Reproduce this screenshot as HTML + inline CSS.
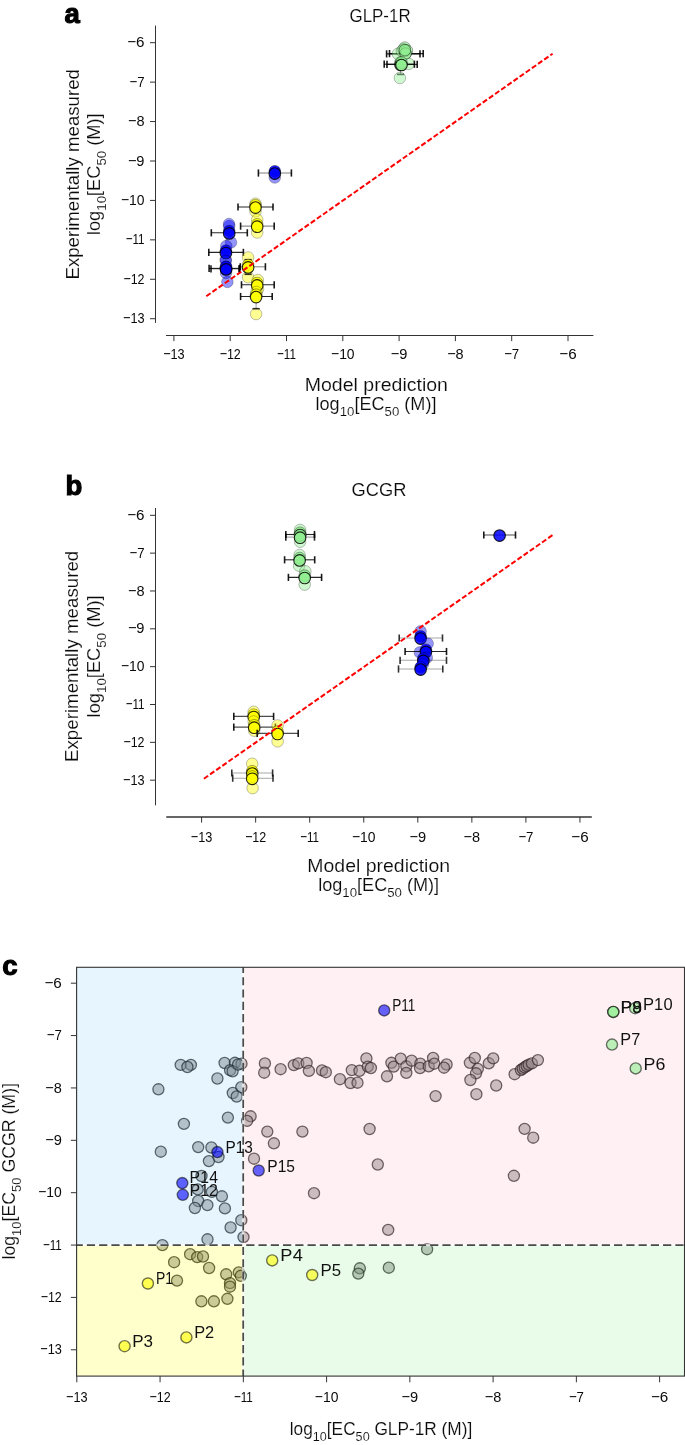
<!DOCTYPE html><html><head><meta charset="utf-8"><style>html,body{margin:0;padding:0;background:#fff;}svg{display:block;will-change:transform;} text{paint-order:fill stroke;stroke:#fff;stroke-width:0.14px;}</style></head><body><svg width="685" height="1445" viewBox="0 0 685 1445" font-family='"Liberation Sans", sans-serif'>
<rect width="685" height="1445" fill="#fff"/>
<text x="64.40" y="22.60" font-size="27.5" text-anchor="start" font-weight="bold" fill="#000" style="stroke:#000;stroke-width:1.1px;paint-order:stroke">a</text>
<text x="380.05" y="22.00" font-size="18" text-anchor="middle" font-weight="normal" fill="#0a0a0a" textLength="61.10" lengthAdjust="spacingAndGlyphs" >GLP-1R</text>
<line x1="155.50" y1="25.60" x2="155.50" y2="322.90" stroke="#333" stroke-width="1.0" />
<line x1="150.00" y1="318.71" x2="155.50" y2="318.71" stroke="#333" stroke-width="1.0" />
<text transform="translate(144.50,323.31) scale(0.819,1)" font-size="15.5" text-anchor="end" fill="#0a0a0a" style="stroke:none" textLength="26.25" lengthAdjust="spacing">−13</text>
<line x1="150.00" y1="279.28" x2="155.50" y2="279.28" stroke="#333" stroke-width="1.0" />
<text transform="translate(144.50,283.88) scale(0.806,1)" font-size="15.5" text-anchor="end" fill="#0a0a0a" style="stroke:none" textLength="26.14" lengthAdjust="spacing">−12</text>
<line x1="150.00" y1="239.85" x2="155.50" y2="239.85" stroke="#333" stroke-width="1.0" />
<text transform="translate(144.50,244.45) scale(0.752,1)" font-size="15.5" text-anchor="end" fill="#0a0a0a" style="stroke:none" textLength="25.01" lengthAdjust="spacing">−11</text>
<line x1="150.00" y1="200.42" x2="155.50" y2="200.42" stroke="#333" stroke-width="1.0" />
<text transform="translate(144.50,205.02) scale(0.896,1)" font-size="15.5" text-anchor="end" fill="#0a0a0a" style="stroke:none" textLength="26.35" lengthAdjust="spacing">−10</text>
<line x1="150.00" y1="160.99" x2="155.50" y2="160.99" stroke="#333" stroke-width="1.0" />
<text transform="translate(144.50,165.59) scale(0.943,1)" font-size="15.5" text-anchor="end" fill="#0a0a0a" style="stroke:none" textLength="17.57" lengthAdjust="spacing">−9</text>
<line x1="150.00" y1="121.56" x2="155.50" y2="121.56" stroke="#333" stroke-width="1.0" />
<text transform="translate(144.50,126.16) scale(0.937,1)" font-size="15.5" text-anchor="end" fill="#0a0a0a" style="stroke:none" textLength="17.67" lengthAdjust="spacing">−8</text>
<line x1="150.00" y1="82.13" x2="155.50" y2="82.13" stroke="#333" stroke-width="1.0" />
<text transform="translate(144.50,86.73) scale(0.851,1)" font-size="15.5" text-anchor="end" fill="#0a0a0a" style="stroke:none" textLength="17.57" lengthAdjust="spacing">−7</text>
<line x1="150.00" y1="42.70" x2="155.50" y2="42.70" stroke="#333" stroke-width="1.0" />
<text transform="translate(144.50,47.30) scale(0.980,1)" font-size="15.5" text-anchor="end" fill="#0a0a0a" style="stroke:none" textLength="17.67" lengthAdjust="spacing">−6</text>
<line x1="166.00" y1="335.50" x2="593.40" y2="335.50" stroke="#333" stroke-width="1.0" />
<line x1="173.90" y1="335.50" x2="173.90" y2="341.10" stroke="#333" stroke-width="1.0" />
<text transform="translate(173.90,359.00) scale(0.819,1)" font-size="15.5" text-anchor="middle" fill="#0a0a0a" style="stroke:none" textLength="26.25" lengthAdjust="spacing">−13</text>
<line x1="230.20" y1="335.50" x2="230.20" y2="341.10" stroke="#333" stroke-width="1.0" />
<text transform="translate(230.20,359.00) scale(0.806,1)" font-size="15.5" text-anchor="middle" fill="#0a0a0a" style="stroke:none" textLength="26.14" lengthAdjust="spacing">−12</text>
<line x1="286.50" y1="335.50" x2="286.50" y2="341.10" stroke="#333" stroke-width="1.0" />
<text transform="translate(286.50,359.00) scale(0.752,1)" font-size="15.5" text-anchor="middle" fill="#0a0a0a" style="stroke:none" textLength="25.01" lengthAdjust="spacing">−11</text>
<line x1="342.80" y1="335.50" x2="342.80" y2="341.10" stroke="#333" stroke-width="1.0" />
<text transform="translate(342.80,359.00) scale(0.896,1)" font-size="15.5" text-anchor="middle" fill="#0a0a0a" style="stroke:none" textLength="26.35" lengthAdjust="spacing">−10</text>
<line x1="399.10" y1="335.50" x2="399.10" y2="341.10" stroke="#333" stroke-width="1.0" />
<text transform="translate(399.10,359.00) scale(0.943,1)" font-size="15.5" text-anchor="middle" fill="#0a0a0a" style="stroke:none" textLength="17.57" lengthAdjust="spacing">−9</text>
<line x1="455.40" y1="335.50" x2="455.40" y2="341.10" stroke="#333" stroke-width="1.0" />
<text transform="translate(455.40,359.00) scale(0.937,1)" font-size="15.5" text-anchor="middle" fill="#0a0a0a" style="stroke:none" textLength="17.67" lengthAdjust="spacing">−8</text>
<line x1="511.70" y1="335.50" x2="511.70" y2="341.10" stroke="#333" stroke-width="1.0" />
<text transform="translate(511.70,359.00) scale(0.851,1)" font-size="15.5" text-anchor="middle" fill="#0a0a0a" style="stroke:none" textLength="17.57" lengthAdjust="spacing">−7</text>
<line x1="568.00" y1="335.50" x2="568.00" y2="341.10" stroke="#333" stroke-width="1.0" />
<text transform="translate(568.00,359.00) scale(0.980,1)" font-size="15.5" text-anchor="middle" fill="#0a0a0a" style="stroke:none" textLength="17.67" lengthAdjust="spacing">−6</text>
<g transform="translate(79.00,174.30) rotate(-90)">
<text x="0.00" y="0.00" font-size="17.5" text-anchor="middle" font-weight="normal" fill="#0a0a0a" textLength="210.50" lengthAdjust="spacingAndGlyphs" >Experimentally measured</text>
</g>
<g transform="translate(100.30,174.20) rotate(-90)">
<text x="0" y="0" font-size="17.5" text-anchor="middle" fill="#0a0a0a" textLength="121.80" lengthAdjust="spacingAndGlyphs">log<tspan font-size="12.8" dy="6.0">10</tspan><tspan dy="-6.0">[EC</tspan><tspan font-size="12.8" dy="6.0">50</tspan><tspan dy="-6.0"> (M)]</tspan></text>
</g>
<text x="376.35" y="391.30" font-size="17.5" text-anchor="middle" font-weight="normal" fill="#0a0a0a" textLength="143.20" lengthAdjust="spacingAndGlyphs" >Model prediction</text>
<g transform="translate(376.00,409.90)">
<text x="0" y="0" font-size="17.5" text-anchor="middle" fill="#0a0a0a" textLength="121.00" lengthAdjust="spacingAndGlyphs">log<tspan font-size="12.8" dy="6.0">10</tspan><tspan dy="-6.0">[EC</tspan><tspan font-size="12.8" dy="6.0">50</tspan><tspan dy="-6.0"> (M)]</tspan></text>
</g>
<text x="65.50" y="495.40" font-size="27.5" text-anchor="start" font-weight="bold" fill="#000" style="stroke:#000;stroke-width:1.1px;paint-order:stroke">b</text>
<text x="378.95" y="496.00" font-size="18" text-anchor="middle" font-weight="normal" fill="#0a0a0a" textLength="54.90" lengthAdjust="spacingAndGlyphs" >GCGR</text>
<line x1="155.50" y1="508.00" x2="155.50" y2="805.30" stroke="#333" stroke-width="1.0" />
<line x1="150.00" y1="780.18" x2="155.50" y2="780.18" stroke="#333" stroke-width="1.0" />
<text transform="translate(144.50,784.78) scale(0.819,1)" font-size="15.5" text-anchor="end" fill="#0a0a0a" style="stroke:none" textLength="26.25" lengthAdjust="spacing">−13</text>
<line x1="150.00" y1="742.34" x2="155.50" y2="742.34" stroke="#333" stroke-width="1.0" />
<text transform="translate(144.50,746.94) scale(0.806,1)" font-size="15.5" text-anchor="end" fill="#0a0a0a" style="stroke:none" textLength="26.14" lengthAdjust="spacing">−12</text>
<line x1="150.00" y1="704.50" x2="155.50" y2="704.50" stroke="#333" stroke-width="1.0" />
<text transform="translate(144.50,709.10) scale(0.752,1)" font-size="15.5" text-anchor="end" fill="#0a0a0a" style="stroke:none" textLength="25.01" lengthAdjust="spacing">−11</text>
<line x1="150.00" y1="666.66" x2="155.50" y2="666.66" stroke="#333" stroke-width="1.0" />
<text transform="translate(144.50,671.26) scale(0.896,1)" font-size="15.5" text-anchor="end" fill="#0a0a0a" style="stroke:none" textLength="26.35" lengthAdjust="spacing">−10</text>
<line x1="150.00" y1="628.82" x2="155.50" y2="628.82" stroke="#333" stroke-width="1.0" />
<text transform="translate(144.50,633.42) scale(0.943,1)" font-size="15.5" text-anchor="end" fill="#0a0a0a" style="stroke:none" textLength="17.57" lengthAdjust="spacing">−9</text>
<line x1="150.00" y1="590.98" x2="155.50" y2="590.98" stroke="#333" stroke-width="1.0" />
<text transform="translate(144.50,595.58) scale(0.937,1)" font-size="15.5" text-anchor="end" fill="#0a0a0a" style="stroke:none" textLength="17.67" lengthAdjust="spacing">−8</text>
<line x1="150.00" y1="553.14" x2="155.50" y2="553.14" stroke="#333" stroke-width="1.0" />
<text transform="translate(144.50,557.74) scale(0.851,1)" font-size="15.5" text-anchor="end" fill="#0a0a0a" style="stroke:none" textLength="17.57" lengthAdjust="spacing">−7</text>
<line x1="150.00" y1="515.30" x2="155.50" y2="515.30" stroke="#333" stroke-width="1.0" />
<text transform="translate(144.50,519.90) scale(0.980,1)" font-size="15.5" text-anchor="end" fill="#0a0a0a" style="stroke:none" textLength="17.67" lengthAdjust="spacing">−6</text>
<line x1="166.30" y1="817.00" x2="591.80" y2="817.00" stroke="#333" stroke-width="1.3" />
<line x1="201.60" y1="817.00" x2="201.60" y2="822.60" stroke="#333" stroke-width="1.0" />
<text transform="translate(201.60,841.70) scale(0.819,1)" font-size="15.5" text-anchor="middle" fill="#0a0a0a" style="stroke:none" textLength="26.25" lengthAdjust="spacing">−13</text>
<line x1="255.65" y1="817.00" x2="255.65" y2="822.60" stroke="#333" stroke-width="1.0" />
<text transform="translate(255.65,841.70) scale(0.806,1)" font-size="15.5" text-anchor="middle" fill="#0a0a0a" style="stroke:none" textLength="26.14" lengthAdjust="spacing">−12</text>
<line x1="309.70" y1="817.00" x2="309.70" y2="822.60" stroke="#333" stroke-width="1.0" />
<text transform="translate(309.70,841.70) scale(0.752,1)" font-size="15.5" text-anchor="middle" fill="#0a0a0a" style="stroke:none" textLength="25.01" lengthAdjust="spacing">−11</text>
<line x1="363.75" y1="817.00" x2="363.75" y2="822.60" stroke="#333" stroke-width="1.0" />
<text transform="translate(363.75,841.70) scale(0.896,1)" font-size="15.5" text-anchor="middle" fill="#0a0a0a" style="stroke:none" textLength="26.35" lengthAdjust="spacing">−10</text>
<line x1="417.80" y1="817.00" x2="417.80" y2="822.60" stroke="#333" stroke-width="1.0" />
<text transform="translate(417.80,841.70) scale(0.943,1)" font-size="15.5" text-anchor="middle" fill="#0a0a0a" style="stroke:none" textLength="17.57" lengthAdjust="spacing">−9</text>
<line x1="471.85" y1="817.00" x2="471.85" y2="822.60" stroke="#333" stroke-width="1.0" />
<text transform="translate(471.85,841.70) scale(0.937,1)" font-size="15.5" text-anchor="middle" fill="#0a0a0a" style="stroke:none" textLength="17.67" lengthAdjust="spacing">−8</text>
<line x1="525.90" y1="817.00" x2="525.90" y2="822.60" stroke="#333" stroke-width="1.0" />
<text transform="translate(525.90,841.70) scale(0.851,1)" font-size="15.5" text-anchor="middle" fill="#0a0a0a" style="stroke:none" textLength="17.57" lengthAdjust="spacing">−7</text>
<line x1="579.95" y1="817.00" x2="579.95" y2="822.60" stroke="#333" stroke-width="1.0" />
<text transform="translate(579.95,841.70) scale(0.980,1)" font-size="15.5" text-anchor="middle" fill="#0a0a0a" style="stroke:none" textLength="17.67" lengthAdjust="spacing">−6</text>
<g transform="translate(78.10,656.40) rotate(-90)">
<text x="0.00" y="0.00" font-size="17.5" text-anchor="middle" font-weight="normal" fill="#0a0a0a" textLength="211.20" lengthAdjust="spacingAndGlyphs" >Experimentally measured</text>
</g>
<g transform="translate(99.80,656.40) rotate(-90)">
<text x="0" y="0" font-size="17.5" text-anchor="middle" fill="#0a0a0a" textLength="122.00" lengthAdjust="spacingAndGlyphs">log<tspan font-size="12.8" dy="6.0">10</tspan><tspan dy="-6.0">[EC</tspan><tspan font-size="12.8" dy="6.0">50</tspan><tspan dy="-6.0"> (M)]</tspan></text>
</g>
<text x="378.70" y="872.10" font-size="17.5" text-anchor="middle" font-weight="normal" fill="#0a0a0a" textLength="142.70" lengthAdjust="spacingAndGlyphs" >Model prediction</text>
<g transform="translate(378.65,891.20)">
<text x="0" y="0" font-size="17.5" text-anchor="middle" fill="#0a0a0a" textLength="121.00" lengthAdjust="spacingAndGlyphs">log<tspan font-size="12.8" dy="6.0">10</tspan><tspan dy="-6.0">[EC</tspan><tspan font-size="12.8" dy="6.0">50</tspan><tspan dy="-6.0"> (M)]</tspan></text>
</g>
<line x1="386.60" y1="53.90" x2="420.00" y2="53.90" stroke="rgba(0,0,0,0.85)" stroke-width="1.1"/><g stroke="rgba(0,0,0,0.9)" stroke-width="1.6"><line x1="386.60" y1="50.30" x2="386.60" y2="57.50"/><line x1="420.00" y1="50.30" x2="420.00" y2="57.50"/></g>
<line x1="389.50" y1="53.60" x2="423.20" y2="53.60" stroke="rgba(0,0,0,0.85)" stroke-width="1.1"/><g stroke="rgba(0,0,0,0.9)" stroke-width="1.6"><line x1="389.50" y1="50.00" x2="389.50" y2="57.20"/><line x1="423.20" y1="50.00" x2="423.20" y2="57.20"/></g>
<circle cx="397.90" cy="53.90" r="5.8" fill="rgba(144,238,144,0.42)" stroke="rgba(0,0,0,0.25)" stroke-width="1"/>
<circle cx="401.90" cy="51.10" r="5.8" fill="rgba(144,238,144,0.42)" stroke="rgba(0,0,0,0.25)" stroke-width="1"/>
<circle cx="404.70" cy="47.60" r="5.8" fill="rgba(144,238,144,0.6)" stroke="rgba(0,0,0,0.3)" stroke-width="1"/>
<circle cx="403.60" cy="49.50" r="5.8" fill="rgba(144,238,144,0.6)" stroke="rgba(0,0,0,0.3)" stroke-width="1"/>
<circle cx="406.90" cy="50.60" r="5.8" fill="rgba(144,238,144,0.6)" stroke="rgba(0,0,0,0.35)" stroke-width="1"/>
<circle cx="405.60" cy="53.60" r="5.8" fill="rgba(144,238,144,0.75)" stroke="rgba(0,0,0,0.6)" stroke-width="1"/>
<circle cx="404.90" cy="50.20" r="5.8" fill="rgba(144,238,144,0.7)" stroke="rgba(0,0,0,0.45)" stroke-width="1"/>
<line x1="400.50" y1="64.20" x2="400.50" y2="74.40" stroke="rgba(0,0,0,0.35)" stroke-width="1.1"/>
<line x1="396.90" y1="74.40" x2="404.10" y2="74.40" stroke="rgba(0,0,0,0.8)" stroke-width="1.6"/>
<circle cx="408.70" cy="63.90" r="5.8" fill="rgba(144,238,144,0.42)" stroke="rgba(0,0,0,0.25)" stroke-width="1"/>
<circle cx="399.90" cy="78.00" r="5.8" fill="rgba(144,238,144,0.42)" stroke="rgba(0,0,0,0.25)" stroke-width="1"/>
<line x1="384.20" y1="64.20" x2="414.40" y2="64.20" stroke="rgba(0,0,0,0.85)" stroke-width="1.1"/><g stroke="rgba(0,0,0,0.9)" stroke-width="1.6"><line x1="384.20" y1="60.60" x2="384.20" y2="67.80"/><line x1="414.40" y1="60.60" x2="414.40" y2="67.80"/></g>
<circle cx="400.50" cy="62.40" r="5.8" fill="rgba(144,238,144,0.9)" stroke="rgba(0,0,0,0.35)" stroke-width="1"/>
<circle cx="400.50" cy="64.80" r="5.8" fill="rgba(144,238,144,0.85)" stroke="rgba(0,0,0,0.85)" stroke-width="1.1"/>
<line x1="387.00" y1="64.40" x2="417.20" y2="64.40" stroke="rgba(0,0,0,0.85)" stroke-width="1.1"/><g stroke="rgba(0,0,0,0.9)" stroke-width="1.6"><line x1="387.00" y1="60.80" x2="387.00" y2="68.00"/><line x1="417.20" y1="60.80" x2="417.20" y2="68.00"/></g>
<circle cx="401.50" cy="62.60" r="5.8" fill="rgba(144,238,144,0.9)" stroke="rgba(0,0,0,0.35)" stroke-width="1"/>
<circle cx="401.50" cy="65.00" r="5.8" fill="rgba(144,238,144,0.85)" stroke="rgba(0,0,0,0.85)" stroke-width="1.1"/>
<circle cx="274.80" cy="177.50" r="5.8" fill="rgba(0,0,255,0.42)" stroke="rgba(0,0,0,0.25)" stroke-width="1"/>
<line x1="258.40" y1="173.00" x2="291.40" y2="173.00" stroke="rgba(0,0,0,0.5)" stroke-width="1.1"/><g stroke="rgba(0,0,0,0.9)" stroke-width="1.6"><line x1="258.40" y1="169.40" x2="258.40" y2="176.60"/><line x1="291.40" y1="169.40" x2="291.40" y2="176.60"/></g>
<circle cx="274.80" cy="171.20" r="5.8" fill="rgba(0,0,255,0.9)" stroke="rgba(0,0,0,0.35)" stroke-width="1"/>
<circle cx="274.80" cy="173.60" r="5.8" fill="rgba(0,0,255,0.85)" stroke="rgba(0,0,0,0.85)" stroke-width="1.1"/>
<circle cx="229.20" cy="226.10" r="5.8" fill="rgba(0,0,255,0.42)" stroke="rgba(0,0,0,0.25)" stroke-width="1"/>
<circle cx="229.00" cy="224.00" r="5.8" fill="rgba(0,0,255,0.42)" stroke="rgba(0,0,0,0.25)" stroke-width="1"/>
<circle cx="231.00" cy="242.40" r="5.8" fill="rgba(0,0,255,0.42)" stroke="rgba(0,0,0,0.25)" stroke-width="1"/>
<line x1="211.30" y1="232.80" x2="247.30" y2="232.80" stroke="rgba(0,0,0,0.85)" stroke-width="1.1"/><g stroke="rgba(0,0,0,0.9)" stroke-width="1.6"><line x1="211.30" y1="229.20" x2="211.30" y2="236.40"/><line x1="247.30" y1="229.20" x2="247.30" y2="236.40"/></g>
<circle cx="229.20" cy="231.00" r="5.8" fill="rgba(0,0,255,0.9)" stroke="rgba(0,0,0,0.35)" stroke-width="1"/>
<circle cx="229.20" cy="233.40" r="5.8" fill="rgba(0,0,255,0.85)" stroke="rgba(0,0,0,0.85)" stroke-width="1.1"/>
<circle cx="226.30" cy="246.00" r="5.8" fill="rgba(0,0,255,0.42)" stroke="rgba(0,0,0,0.25)" stroke-width="1"/>
<circle cx="225.70" cy="259.50" r="5.8" fill="rgba(0,0,255,0.42)" stroke="rgba(0,0,0,0.25)" stroke-width="1"/>
<line x1="208.80" y1="252.40" x2="243.40" y2="252.40" stroke="rgba(0,0,0,0.85)" stroke-width="1.1"/><g stroke="rgba(0,0,0,0.9)" stroke-width="1.6"><line x1="208.80" y1="248.80" x2="208.80" y2="256.00"/><line x1="243.40" y1="248.80" x2="243.40" y2="256.00"/></g>
<circle cx="225.90" cy="250.60" r="5.8" fill="rgba(0,0,255,0.9)" stroke="rgba(0,0,0,0.35)" stroke-width="1"/>
<circle cx="225.90" cy="253.00" r="5.8" fill="rgba(0,0,255,0.85)" stroke="rgba(0,0,0,0.85)" stroke-width="1.1"/>
<circle cx="225.90" cy="261.00" r="5.8" fill="rgba(0,0,255,0.42)" stroke="rgba(0,0,0,0.25)" stroke-width="1"/>
<circle cx="227.40" cy="281.90" r="5.8" fill="rgba(0,0,255,0.42)" stroke="rgba(0,0,0,0.25)" stroke-width="1"/>
<circle cx="226.00" cy="273.00" r="5.8" fill="rgba(0,0,255,0.42)" stroke="rgba(0,0,0,0.25)" stroke-width="1"/>
<line x1="209.10" y1="268.40" x2="239.70" y2="268.40" stroke="rgba(0,0,0,0.85)" stroke-width="1.1"/><g stroke="rgba(0,0,0,0.9)" stroke-width="1.6"><line x1="209.10" y1="264.80" x2="209.10" y2="272.00"/><line x1="239.70" y1="264.80" x2="239.70" y2="272.00"/></g>
<circle cx="225.90" cy="266.60" r="5.8" fill="rgba(0,0,255,0.9)" stroke="rgba(0,0,0,0.35)" stroke-width="1"/>
<circle cx="225.90" cy="269.00" r="5.8" fill="rgba(0,0,255,0.85)" stroke="rgba(0,0,0,0.85)" stroke-width="1.1"/>
<line x1="211.00" y1="268.80" x2="239.00" y2="268.80" stroke="rgba(0,0,0,0.5)" stroke-width="1.1"/><g stroke="rgba(0,0,0,0.9)" stroke-width="1.6"><line x1="211.00" y1="265.20" x2="211.00" y2="272.40"/><line x1="239.00" y1="265.20" x2="239.00" y2="272.40"/></g>
<circle cx="226.20" cy="267.00" r="5.8" fill="rgba(0,0,255,0.9)" stroke="rgba(0,0,0,0.35)" stroke-width="1"/>
<circle cx="226.20" cy="269.40" r="5.8" fill="rgba(0,0,255,0.85)" stroke="rgba(0,0,0,0.85)" stroke-width="1.1"/>
<circle cx="255.50" cy="203.70" r="5.8" fill="rgba(255,255,0,0.42)" stroke="rgba(0,0,0,0.25)" stroke-width="1"/>
<circle cx="255.50" cy="211.30" r="5.8" fill="rgba(255,255,0,0.42)" stroke="rgba(0,0,0,0.25)" stroke-width="1"/>
<line x1="238.00" y1="207.00" x2="273.00" y2="207.00" stroke="rgba(0,0,0,0.85)" stroke-width="1.1"/><g stroke="rgba(0,0,0,0.9)" stroke-width="1.6"><line x1="238.00" y1="203.40" x2="238.00" y2="210.60"/><line x1="273.00" y1="203.40" x2="273.00" y2="210.60"/></g>
<circle cx="255.50" cy="205.20" r="5.8" fill="rgba(255,255,0,0.9)" stroke="rgba(0,0,0,0.35)" stroke-width="1"/>
<circle cx="255.50" cy="207.60" r="5.8" fill="rgba(255,255,0,0.85)" stroke="rgba(0,0,0,0.85)" stroke-width="1.1"/>
<circle cx="257.20" cy="219.70" r="5.8" fill="rgba(255,255,0,0.42)" stroke="rgba(0,0,0,0.25)" stroke-width="1"/>
<circle cx="257.20" cy="232.50" r="5.8" fill="rgba(255,255,0,0.42)" stroke="rgba(0,0,0,0.25)" stroke-width="1"/>
<line x1="240.60" y1="226.10" x2="274.20" y2="226.10" stroke="rgba(0,0,0,0.45)" stroke-width="1.1"/><g stroke="rgba(0,0,0,0.9)" stroke-width="1.6"><line x1="240.60" y1="222.50" x2="240.60" y2="229.70"/><line x1="274.20" y1="222.50" x2="274.20" y2="229.70"/></g>
<circle cx="257.20" cy="224.30" r="5.8" fill="rgba(255,255,0,0.9)" stroke="rgba(0,0,0,0.35)" stroke-width="1"/>
<circle cx="257.20" cy="226.70" r="5.8" fill="rgba(255,255,0,0.85)" stroke="rgba(0,0,0,0.85)" stroke-width="1.1"/>
<circle cx="248.10" cy="257.50" r="5.8" fill="rgba(255,255,0,0.42)" stroke="rgba(0,0,0,0.25)" stroke-width="1"/>
<circle cx="248.10" cy="277.20" r="5.8" fill="rgba(255,255,0,0.42)" stroke="rgba(0,0,0,0.25)" stroke-width="1"/>
<line x1="248.10" y1="259.70" x2="248.10" y2="274.30" stroke="rgba(0,0,0,0.35)" stroke-width="1.1"/>
<line x1="244.50" y1="259.70" x2="251.70" y2="259.70" stroke="rgba(0,0,0,0.8)" stroke-width="1.6"/>
<line x1="244.50" y1="274.30" x2="251.70" y2="274.30" stroke="rgba(0,0,0,0.8)" stroke-width="1.6"/>
<line x1="240.30" y1="266.80" x2="265.40" y2="266.80" stroke="rgba(0,0,0,0.45)" stroke-width="1.1"/><g stroke="rgba(0,0,0,0.9)" stroke-width="1.6"><line x1="240.30" y1="263.20" x2="240.30" y2="270.40"/><line x1="265.40" y1="263.20" x2="265.40" y2="270.40"/></g>
<circle cx="248.10" cy="265.00" r="5.8" fill="rgba(255,255,0,0.9)" stroke="rgba(0,0,0,0.35)" stroke-width="1"/>
<circle cx="248.10" cy="267.40" r="5.8" fill="rgba(255,255,0,0.85)" stroke="rgba(0,0,0,0.85)" stroke-width="1.1"/>
<circle cx="257.80" cy="280.10" r="5.8" fill="rgba(255,255,0,0.42)" stroke="rgba(0,0,0,0.25)" stroke-width="1"/>
<circle cx="258.00" cy="289.00" r="5.8" fill="rgba(255,255,0,0.42)" stroke="rgba(0,0,0,0.25)" stroke-width="1"/>
<line x1="241.50" y1="284.80" x2="274.20" y2="284.80" stroke="rgba(0,0,0,0.85)" stroke-width="1.1"/><g stroke="rgba(0,0,0,0.9)" stroke-width="1.6"><line x1="241.50" y1="281.20" x2="241.50" y2="288.40"/><line x1="274.20" y1="281.20" x2="274.20" y2="288.40"/></g>
<circle cx="257.20" cy="283.00" r="5.8" fill="rgba(255,255,0,0.9)" stroke="rgba(0,0,0,0.35)" stroke-width="1"/>
<circle cx="257.20" cy="285.40" r="5.8" fill="rgba(255,255,0,0.85)" stroke="rgba(0,0,0,0.85)" stroke-width="1.1"/>
<circle cx="256.10" cy="314.00" r="5.8" fill="rgba(255,255,0,0.42)" stroke="rgba(0,0,0,0.25)" stroke-width="1"/>
<circle cx="256.50" cy="292.00" r="5.8" fill="rgba(255,255,0,0.42)" stroke="rgba(0,0,0,0.25)" stroke-width="1"/>
<line x1="256.10" y1="296.50" x2="256.10" y2="308.70" stroke="rgba(0,0,0,0.35)" stroke-width="1.1"/>
<line x1="252.50" y1="308.70" x2="259.70" y2="308.70" stroke="rgba(0,0,0,0.8)" stroke-width="1.6"/>
<line x1="240.60" y1="296.50" x2="272.20" y2="296.50" stroke="rgba(0,0,0,0.85)" stroke-width="1.1"/><g stroke="rgba(0,0,0,0.9)" stroke-width="1.6"><line x1="240.60" y1="292.90" x2="240.60" y2="300.10"/><line x1="272.20" y1="292.90" x2="272.20" y2="300.10"/></g>
<circle cx="256.10" cy="294.70" r="5.8" fill="rgba(255,255,0,0.9)" stroke="rgba(0,0,0,0.35)" stroke-width="1"/>
<circle cx="256.10" cy="297.10" r="5.8" fill="rgba(255,255,0,0.85)" stroke="rgba(0,0,0,0.85)" stroke-width="1.1"/>
<circle cx="300.10" cy="529.90" r="5.8" fill="rgba(144,238,144,0.42)" stroke="rgba(0,0,0,0.25)" stroke-width="1"/>
<circle cx="300.10" cy="541.70" r="5.8" fill="rgba(144,238,144,0.42)" stroke="rgba(0,0,0,0.25)" stroke-width="1"/>
<line x1="285.80" y1="534.50" x2="314.50" y2="534.50" stroke="rgba(0,0,0,0.85)" stroke-width="1.1"/><g stroke="rgba(0,0,0,0.9)" stroke-width="1.6"><line x1="285.80" y1="530.90" x2="285.80" y2="538.10"/><line x1="314.50" y1="530.90" x2="314.50" y2="538.10"/></g>
<circle cx="300.10" cy="532.70" r="5.8" fill="rgba(144,238,144,0.9)" stroke="rgba(0,0,0,0.35)" stroke-width="1"/>
<circle cx="300.10" cy="535.10" r="5.8" fill="rgba(144,238,144,0.85)" stroke="rgba(0,0,0,0.85)" stroke-width="1.1"/>
<line x1="285.80" y1="537.10" x2="314.50" y2="537.10" stroke="rgba(0,0,0,0.4)" stroke-width="1.1"/><g stroke="rgba(0,0,0,0.8500000000000001)" stroke-width="1.6"><line x1="285.80" y1="533.50" x2="285.80" y2="540.70"/><line x1="314.50" y1="533.50" x2="314.50" y2="540.70"/></g>
<circle cx="300.10" cy="535.30" r="5.8" fill="rgba(144,238,144,0.9)" stroke="rgba(0,0,0,0.35)" stroke-width="1"/>
<circle cx="300.10" cy="537.70" r="5.8" fill="rgba(144,238,144,0.85)" stroke="rgba(0,0,0,0.85)" stroke-width="1.1"/>
<circle cx="299.60" cy="555.00" r="5.8" fill="rgba(144,238,144,0.42)" stroke="rgba(0,0,0,0.25)" stroke-width="1"/>
<circle cx="299.10" cy="565.70" r="5.8" fill="rgba(144,238,144,0.42)" stroke="rgba(0,0,0,0.25)" stroke-width="1"/>
<line x1="284.60" y1="559.80" x2="314.70" y2="559.80" stroke="rgba(0,0,0,0.85)" stroke-width="1.1"/><g stroke="rgba(0,0,0,0.9)" stroke-width="1.6"><line x1="284.60" y1="556.20" x2="284.60" y2="563.40"/><line x1="314.70" y1="556.20" x2="314.70" y2="563.40"/></g>
<circle cx="299.60" cy="558.00" r="5.8" fill="rgba(144,238,144,0.9)" stroke="rgba(0,0,0,0.35)" stroke-width="1"/>
<circle cx="299.60" cy="560.40" r="5.8" fill="rgba(144,238,144,0.85)" stroke="rgba(0,0,0,0.85)" stroke-width="1.1"/>
<circle cx="305.30" cy="571.30" r="5.8" fill="rgba(144,238,144,0.42)" stroke="rgba(0,0,0,0.25)" stroke-width="1"/>
<circle cx="304.70" cy="584.60" r="5.8" fill="rgba(144,238,144,0.42)" stroke="rgba(0,0,0,0.25)" stroke-width="1"/>
<line x1="288.40" y1="577.40" x2="321.60" y2="577.40" stroke="rgba(0,0,0,0.85)" stroke-width="1.1"/><g stroke="rgba(0,0,0,0.9)" stroke-width="1.6"><line x1="288.40" y1="573.80" x2="288.40" y2="581.00"/><line x1="321.60" y1="573.80" x2="321.60" y2="581.00"/></g>
<circle cx="304.70" cy="575.60" r="5.8" fill="rgba(144,238,144,0.9)" stroke="rgba(0,0,0,0.35)" stroke-width="1"/>
<circle cx="304.70" cy="578.00" r="5.8" fill="rgba(144,238,144,0.85)" stroke="rgba(0,0,0,0.85)" stroke-width="1.1"/>
<line x1="483.80" y1="535.00" x2="515.50" y2="535.00" stroke="rgba(0,0,0,0.7)" stroke-width="1.1"/><g stroke="rgba(0,0,0,0.9)" stroke-width="1.6"><line x1="483.80" y1="531.40" x2="483.80" y2="538.60"/><line x1="515.50" y1="531.40" x2="515.50" y2="538.60"/></g>
<circle cx="499.60" cy="535.60" r="5.8" fill="rgba(0,0,255,0.85)" stroke="rgba(0,0,0,0.85)" stroke-width="1.1"/>
<circle cx="420.60" cy="631.40" r="5.8" fill="rgba(0,0,255,0.42)" stroke="rgba(0,0,0,0.25)" stroke-width="1"/>
<line x1="399.20" y1="638.00" x2="442.50" y2="638.00" stroke="rgba(0,0,0,0.35)" stroke-width="1.1"/><g stroke="rgba(0,0,0,0.8)" stroke-width="1.6"><line x1="399.20" y1="634.40" x2="399.20" y2="641.60"/><line x1="442.50" y1="634.40" x2="442.50" y2="641.60"/></g>
<circle cx="420.60" cy="636.20" r="5.8" fill="rgba(0,0,255,0.9)" stroke="rgba(0,0,0,0.35)" stroke-width="1"/>
<circle cx="420.60" cy="638.60" r="5.8" fill="rgba(0,0,255,0.85)" stroke="rgba(0,0,0,0.85)" stroke-width="1.1"/>
<circle cx="427.70" cy="643.60" r="5.8" fill="rgba(0,0,255,0.42)" stroke="rgba(0,0,0,0.25)" stroke-width="1"/>
<circle cx="419.80" cy="652.40" r="5.8" fill="rgba(0,0,255,0.42)" stroke="rgba(0,0,0,0.25)" stroke-width="1"/>
<line x1="405.10" y1="651.50" x2="446.50" y2="651.50" stroke="rgba(0,0,0,0.85)" stroke-width="1.1"/><g stroke="rgba(0,0,0,0.9)" stroke-width="1.6"><line x1="405.10" y1="647.90" x2="405.10" y2="655.10"/><line x1="446.50" y1="647.90" x2="446.50" y2="655.10"/></g>
<circle cx="425.90" cy="649.70" r="5.8" fill="rgba(0,0,255,0.9)" stroke="rgba(0,0,0,0.35)" stroke-width="1"/>
<circle cx="425.90" cy="652.10" r="5.8" fill="rgba(0,0,255,0.85)" stroke="rgba(0,0,0,0.85)" stroke-width="1.1"/>
<circle cx="426.80" cy="657.70" r="5.8" fill="rgba(0,0,255,0.42)" stroke="rgba(0,0,0,0.25)" stroke-width="1"/>
<line x1="400.10" y1="660.30" x2="446.50" y2="660.30" stroke="rgba(0,0,0,0.35)" stroke-width="1.1"/><g stroke="rgba(0,0,0,0.8)" stroke-width="1.6"><line x1="400.10" y1="656.70" x2="400.10" y2="663.90"/><line x1="446.50" y1="656.70" x2="446.50" y2="663.90"/></g>
<circle cx="423.30" cy="658.50" r="5.8" fill="rgba(0,0,255,0.9)" stroke="rgba(0,0,0,0.35)" stroke-width="1"/>
<circle cx="423.30" cy="660.90" r="5.8" fill="rgba(0,0,255,0.85)" stroke="rgba(0,0,0,0.85)" stroke-width="1.1"/>
<circle cx="423.00" cy="664.00" r="5.8" fill="rgba(0,0,255,0.42)" stroke="rgba(0,0,0,0.25)" stroke-width="1"/>
<line x1="398.50" y1="669.00" x2="442.80" y2="669.00" stroke="rgba(0,0,0,0.35)" stroke-width="1.1"/><g stroke="rgba(0,0,0,0.8)" stroke-width="1.6"><line x1="398.50" y1="665.40" x2="398.50" y2="672.60"/><line x1="442.80" y1="665.40" x2="442.80" y2="672.60"/></g>
<circle cx="420.60" cy="667.20" r="5.8" fill="rgba(0,0,255,0.9)" stroke="rgba(0,0,0,0.35)" stroke-width="1"/>
<circle cx="420.60" cy="669.60" r="5.8" fill="rgba(0,0,255,0.85)" stroke="rgba(0,0,0,0.85)" stroke-width="1.1"/>
<circle cx="253.70" cy="711.80" r="5.8" fill="rgba(255,255,0,0.42)" stroke="rgba(0,0,0,0.25)" stroke-width="1"/>
<line x1="233.80" y1="716.40" x2="273.60" y2="716.40" stroke="rgba(0,0,0,0.7)" stroke-width="1.1"/><g stroke="rgba(0,0,0,0.9)" stroke-width="1.6"><line x1="233.80" y1="712.80" x2="233.80" y2="720.00"/><line x1="273.60" y1="712.80" x2="273.60" y2="720.00"/></g>
<circle cx="253.70" cy="714.60" r="5.8" fill="rgba(255,255,0,0.9)" stroke="rgba(0,0,0,0.35)" stroke-width="1"/>
<circle cx="253.70" cy="717.00" r="5.8" fill="rgba(255,255,0,0.85)" stroke="rgba(0,0,0,0.85)" stroke-width="1.1"/>
<circle cx="253.70" cy="721.50" r="5.8" fill="rgba(255,255,0,0.42)" stroke="rgba(0,0,0,0.25)" stroke-width="1"/>
<circle cx="254.20" cy="730.70" r="5.8" fill="rgba(255,255,0,0.42)" stroke="rgba(0,0,0,0.25)" stroke-width="1"/>
<line x1="233.80" y1="727.10" x2="275.40" y2="727.10" stroke="rgba(0,0,0,0.7)" stroke-width="1.1"/><g stroke="rgba(0,0,0,0.9)" stroke-width="1.6"><line x1="233.80" y1="723.50" x2="233.80" y2="730.70"/><line x1="275.40" y1="723.50" x2="275.40" y2="730.70"/></g>
<circle cx="254.20" cy="725.30" r="5.8" fill="rgba(255,255,0,0.9)" stroke="rgba(0,0,0,0.35)" stroke-width="1"/>
<circle cx="254.20" cy="727.70" r="5.8" fill="rgba(255,255,0,0.85)" stroke="rgba(0,0,0,0.85)" stroke-width="1.1"/>
<circle cx="277.60" cy="725.50" r="5.8" fill="rgba(255,255,0,0.42)" stroke="rgba(0,0,0,0.25)" stroke-width="1"/>
<circle cx="277.60" cy="741.30" r="5.8" fill="rgba(255,255,0,0.42)" stroke="rgba(0,0,0,0.25)" stroke-width="1"/>
<line x1="257.20" y1="733.40" x2="298.20" y2="733.40" stroke="rgba(0,0,0,0.7)" stroke-width="1.1"/><g stroke="rgba(0,0,0,0.9)" stroke-width="1.6"><line x1="257.20" y1="729.80" x2="257.20" y2="737.00"/><line x1="298.20" y1="729.80" x2="298.20" y2="737.00"/></g>
<circle cx="277.60" cy="731.60" r="5.8" fill="rgba(255,255,0,0.9)" stroke="rgba(0,0,0,0.35)" stroke-width="1"/>
<circle cx="277.60" cy="734.00" r="5.8" fill="rgba(255,255,0,0.85)" stroke="rgba(0,0,0,0.85)" stroke-width="1.1"/>
<circle cx="252.20" cy="763.80" r="5.8" fill="rgba(255,255,0,0.42)" stroke="rgba(0,0,0,0.25)" stroke-width="1"/>
<circle cx="252.60" cy="788.10" r="5.8" fill="rgba(255,255,0,0.42)" stroke="rgba(0,0,0,0.25)" stroke-width="1"/>
<line x1="231.80" y1="773.00" x2="272.60" y2="773.00" stroke="rgba(0,0,0,0.35)" stroke-width="1.1"/><g stroke="rgba(0,0,0,0.8)" stroke-width="1.6"><line x1="231.80" y1="769.40" x2="231.80" y2="776.60"/><line x1="272.60" y1="769.40" x2="272.60" y2="776.60"/></g>
<circle cx="252.20" cy="771.20" r="5.8" fill="rgba(255,255,0,0.9)" stroke="rgba(0,0,0,0.35)" stroke-width="1"/>
<circle cx="252.20" cy="773.60" r="5.8" fill="rgba(255,255,0,0.85)" stroke="rgba(0,0,0,0.85)" stroke-width="1.1"/>
<line x1="232.70" y1="778.20" x2="273.00" y2="778.20" stroke="rgba(0,0,0,0.35)" stroke-width="1.1"/><g stroke="rgba(0,0,0,0.8)" stroke-width="1.6"><line x1="232.70" y1="774.60" x2="232.70" y2="781.80"/><line x1="273.00" y1="774.60" x2="273.00" y2="781.80"/></g>
<circle cx="252.20" cy="776.40" r="5.8" fill="rgba(255,255,0,0.9)" stroke="rgba(0,0,0,0.35)" stroke-width="1"/>
<circle cx="252.20" cy="778.80" r="5.8" fill="rgba(255,255,0,0.85)" stroke="rgba(0,0,0,0.85)" stroke-width="1.1"/>
<line x1="206.3" y1="296.2" x2="552.6" y2="53.7" stroke="#ff0000" stroke-width="2" stroke-dasharray="5.2 2.3"/>
<line x1="203.9" y1="778.7" x2="552.7" y2="535.0" stroke="#ff0000" stroke-width="2" stroke-dasharray="5.2 2.3"/>
<defs><clipPath id="cc"><rect x="76.6" y="967.3" width="607.9" height="408.8"/></clipPath></defs>
<g clip-path="url(#cc)">
<circle cx="158.4" cy="1089.3" r="5.55" fill="rgba(128,128,128,0.5)" stroke="rgba(0,0,0,0.68)" stroke-width="1.3"/>
<circle cx="180.7" cy="1064.9" r="5.55" fill="rgba(128,128,128,0.5)" stroke="rgba(0,0,0,0.68)" stroke-width="1.3"/>
<circle cx="190.9" cy="1064.9" r="5.55" fill="rgba(128,128,128,0.5)" stroke="rgba(0,0,0,0.68)" stroke-width="1.3"/>
<circle cx="187.4" cy="1067" r="5.55" fill="rgba(128,128,128,0.5)" stroke="rgba(0,0,0,0.68)" stroke-width="1.3"/>
<circle cx="217.4" cy="1078.5" r="5.55" fill="rgba(128,128,128,0.5)" stroke="rgba(0,0,0,0.68)" stroke-width="1.3"/>
<circle cx="224.6" cy="1063" r="5.55" fill="rgba(128,128,128,0.5)" stroke="rgba(0,0,0,0.68)" stroke-width="1.3"/>
<circle cx="234.9" cy="1062.8" r="5.55" fill="rgba(128,128,128,0.5)" stroke="rgba(0,0,0,0.68)" stroke-width="1.3"/>
<circle cx="230.1" cy="1070.2" r="5.55" fill="rgba(128,128,128,0.5)" stroke="rgba(0,0,0,0.68)" stroke-width="1.3"/>
<circle cx="232.6" cy="1071.3" r="5.55" fill="rgba(128,128,128,0.5)" stroke="rgba(0,0,0,0.68)" stroke-width="1.3"/>
<circle cx="241.5" cy="1063.7" r="5.55" fill="rgba(128,128,128,0.5)" stroke="rgba(0,0,0,0.68)" stroke-width="1.3"/>
<circle cx="238.1" cy="1064.5" r="5.55" fill="rgba(128,128,128,0.5)" stroke="rgba(0,0,0,0.68)" stroke-width="1.3"/>
<circle cx="241.3" cy="1087.2" r="5.55" fill="rgba(128,128,128,0.5)" stroke="rgba(0,0,0,0.68)" stroke-width="1.3"/>
<circle cx="232.8" cy="1093" r="5.55" fill="rgba(128,128,128,0.5)" stroke="rgba(0,0,0,0.68)" stroke-width="1.3"/>
<circle cx="236.7" cy="1096.5" r="5.55" fill="rgba(128,128,128,0.5)" stroke="rgba(0,0,0,0.68)" stroke-width="1.3"/>
<circle cx="227.9" cy="1117.6" r="5.55" fill="rgba(128,128,128,0.5)" stroke="rgba(0,0,0,0.68)" stroke-width="1.3"/>
<circle cx="183.9" cy="1123.9" r="5.55" fill="rgba(128,128,128,0.5)" stroke="rgba(0,0,0,0.68)" stroke-width="1.3"/>
<circle cx="160.8" cy="1151.7" r="5.55" fill="rgba(128,128,128,0.5)" stroke="rgba(0,0,0,0.68)" stroke-width="1.3"/>
<circle cx="198.2" cy="1147.1" r="5.55" fill="rgba(128,128,128,0.5)" stroke="rgba(0,0,0,0.68)" stroke-width="1.3"/>
<circle cx="211.4" cy="1147.5" r="5.55" fill="rgba(128,128,128,0.5)" stroke="rgba(0,0,0,0.68)" stroke-width="1.3"/>
<circle cx="208.9" cy="1161.1" r="5.55" fill="rgba(128,128,128,0.5)" stroke="rgba(0,0,0,0.68)" stroke-width="1.3"/>
<circle cx="218.5" cy="1157" r="5.55" fill="rgba(128,128,128,0.5)" stroke="rgba(0,0,0,0.68)" stroke-width="1.3"/>
<circle cx="201.5" cy="1176" r="5.55" fill="rgba(128,128,128,0.5)" stroke="rgba(0,0,0,0.68)" stroke-width="1.3"/>
<circle cx="197.7" cy="1189.4" r="5.55" fill="rgba(128,128,128,0.5)" stroke="rgba(0,0,0,0.68)" stroke-width="1.3"/>
<circle cx="211.9" cy="1191.9" r="5.55" fill="rgba(128,128,128,0.5)" stroke="rgba(0,0,0,0.68)" stroke-width="1.3"/>
<circle cx="221.9" cy="1196.3" r="5.55" fill="rgba(128,128,128,0.5)" stroke="rgba(0,0,0,0.68)" stroke-width="1.3"/>
<circle cx="198.2" cy="1201" r="5.55" fill="rgba(128,128,128,0.5)" stroke="rgba(0,0,0,0.68)" stroke-width="1.3"/>
<circle cx="207.4" cy="1205.1" r="5.55" fill="rgba(128,128,128,0.5)" stroke="rgba(0,0,0,0.68)" stroke-width="1.3"/>
<circle cx="194.9" cy="1208" r="5.55" fill="rgba(128,128,128,0.5)" stroke="rgba(0,0,0,0.68)" stroke-width="1.3"/>
<circle cx="224.9" cy="1208.4" r="5.55" fill="rgba(128,128,128,0.5)" stroke="rgba(0,0,0,0.68)" stroke-width="1.3"/>
<circle cx="241.3" cy="1220.2" r="5.55" fill="rgba(128,128,128,0.5)" stroke="rgba(0,0,0,0.68)" stroke-width="1.3"/>
<circle cx="230.6" cy="1227.5" r="5.55" fill="rgba(128,128,128,0.5)" stroke="rgba(0,0,0,0.68)" stroke-width="1.3"/>
<circle cx="207.5" cy="1239.3" r="5.55" fill="rgba(128,128,128,0.5)" stroke="rgba(0,0,0,0.68)" stroke-width="1.3"/>
<circle cx="243.5" cy="1237.1" r="5.55" fill="rgba(128,128,128,0.5)" stroke="rgba(0,0,0,0.68)" stroke-width="1.3"/>
<circle cx="162.4" cy="1245.1" r="5.55" fill="rgba(128,128,128,0.5)" stroke="rgba(0,0,0,0.68)" stroke-width="1.3"/>
<circle cx="190.1" cy="1254.2" r="5.55" fill="rgba(128,128,128,0.5)" stroke="rgba(0,0,0,0.68)" stroke-width="1.3"/>
<circle cx="197.2" cy="1257.1" r="5.55" fill="rgba(128,128,128,0.5)" stroke="rgba(0,0,0,0.68)" stroke-width="1.3"/>
<circle cx="203" cy="1256.5" r="5.55" fill="rgba(128,128,128,0.5)" stroke="rgba(0,0,0,0.68)" stroke-width="1.3"/>
<circle cx="174.1" cy="1262.2" r="5.55" fill="rgba(128,128,128,0.5)" stroke="rgba(0,0,0,0.68)" stroke-width="1.3"/>
<circle cx="209.1" cy="1268" r="5.55" fill="rgba(128,128,128,0.5)" stroke="rgba(0,0,0,0.68)" stroke-width="1.3"/>
<circle cx="226.2" cy="1274.3" r="5.55" fill="rgba(128,128,128,0.5)" stroke="rgba(0,0,0,0.68)" stroke-width="1.3"/>
<circle cx="238.8" cy="1272.4" r="5.55" fill="rgba(128,128,128,0.5)" stroke="rgba(0,0,0,0.68)" stroke-width="1.3"/>
<circle cx="240.8" cy="1275.8" r="5.55" fill="rgba(128,128,128,0.5)" stroke="rgba(0,0,0,0.68)" stroke-width="1.3"/>
<circle cx="230" cy="1283.1" r="5.55" fill="rgba(128,128,128,0.5)" stroke="rgba(0,0,0,0.68)" stroke-width="1.3"/>
<circle cx="230" cy="1286.7" r="5.55" fill="rgba(128,128,128,0.5)" stroke="rgba(0,0,0,0.68)" stroke-width="1.3"/>
<circle cx="177" cy="1280.6" r="5.55" fill="rgba(128,128,128,0.5)" stroke="rgba(0,0,0,0.68)" stroke-width="1.3"/>
<circle cx="201.4" cy="1301.3" r="5.55" fill="rgba(128,128,128,0.5)" stroke="rgba(0,0,0,0.68)" stroke-width="1.3"/>
<circle cx="213.9" cy="1301.3" r="5.55" fill="rgba(128,128,128,0.5)" stroke="rgba(0,0,0,0.68)" stroke-width="1.3"/>
<circle cx="227.4" cy="1298.8" r="5.55" fill="rgba(128,128,128,0.5)" stroke="rgba(0,0,0,0.68)" stroke-width="1.3"/>
<circle cx="264.9" cy="1063.4" r="5.55" fill="rgba(128,128,128,0.5)" stroke="rgba(0,0,0,0.68)" stroke-width="1.3"/>
<circle cx="264.2" cy="1072.7" r="5.55" fill="rgba(128,128,128,0.5)" stroke="rgba(0,0,0,0.68)" stroke-width="1.3"/>
<circle cx="280.6" cy="1069.2" r="5.55" fill="rgba(128,128,128,0.5)" stroke="rgba(0,0,0,0.68)" stroke-width="1.3"/>
<circle cx="293.8" cy="1065.1" r="5.55" fill="rgba(128,128,128,0.5)" stroke="rgba(0,0,0,0.68)" stroke-width="1.3"/>
<circle cx="298.3" cy="1063.4" r="5.55" fill="rgba(128,128,128,0.5)" stroke="rgba(0,0,0,0.68)" stroke-width="1.3"/>
<circle cx="306.6" cy="1063" r="5.55" fill="rgba(128,128,128,0.5)" stroke="rgba(0,0,0,0.68)" stroke-width="1.3"/>
<circle cx="308.9" cy="1070.9" r="5.55" fill="rgba(128,128,128,0.5)" stroke="rgba(0,0,0,0.68)" stroke-width="1.3"/>
<circle cx="322" cy="1070.4" r="5.55" fill="rgba(128,128,128,0.5)" stroke="rgba(0,0,0,0.68)" stroke-width="1.3"/>
<circle cx="325.8" cy="1072.2" r="5.55" fill="rgba(128,128,128,0.5)" stroke="rgba(0,0,0,0.68)" stroke-width="1.3"/>
<circle cx="339.9" cy="1079.2" r="5.55" fill="rgba(128,128,128,0.5)" stroke="rgba(0,0,0,0.68)" stroke-width="1.3"/>
<circle cx="351.8" cy="1070.1" r="5.55" fill="rgba(128,128,128,0.5)" stroke="rgba(0,0,0,0.68)" stroke-width="1.3"/>
<circle cx="350.5" cy="1083" r="5.55" fill="rgba(128,128,128,0.5)" stroke="rgba(0,0,0,0.68)" stroke-width="1.3"/>
<circle cx="359.5" cy="1070.8" r="5.55" fill="rgba(128,128,128,0.5)" stroke="rgba(0,0,0,0.68)" stroke-width="1.3"/>
<circle cx="357.5" cy="1082.7" r="5.55" fill="rgba(128,128,128,0.5)" stroke="rgba(0,0,0,0.68)" stroke-width="1.3"/>
<circle cx="366.4" cy="1058.4" r="5.55" fill="rgba(128,128,128,0.5)" stroke="rgba(0,0,0,0.68)" stroke-width="1.3"/>
<circle cx="367.8" cy="1066.6" r="5.55" fill="rgba(128,128,128,0.5)" stroke="rgba(0,0,0,0.68)" stroke-width="1.3"/>
<circle cx="370.9" cy="1068" r="5.55" fill="rgba(128,128,128,0.5)" stroke="rgba(0,0,0,0.68)" stroke-width="1.3"/>
<circle cx="387" cy="1076.3" r="5.55" fill="rgba(128,128,128,0.5)" stroke="rgba(0,0,0,0.68)" stroke-width="1.3"/>
<circle cx="391.4" cy="1062.8" r="5.55" fill="rgba(128,128,128,0.5)" stroke="rgba(0,0,0,0.68)" stroke-width="1.3"/>
<circle cx="393.7" cy="1066.6" r="5.55" fill="rgba(128,128,128,0.5)" stroke="rgba(0,0,0,0.68)" stroke-width="1.3"/>
<circle cx="400.7" cy="1058.7" r="5.55" fill="rgba(128,128,128,0.5)" stroke="rgba(0,0,0,0.68)" stroke-width="1.3"/>
<circle cx="406.3" cy="1066.3" r="5.55" fill="rgba(128,128,128,0.5)" stroke="rgba(0,0,0,0.68)" stroke-width="1.3"/>
<circle cx="406.3" cy="1072.9" r="5.55" fill="rgba(128,128,128,0.5)" stroke="rgba(0,0,0,0.68)" stroke-width="1.3"/>
<circle cx="411.6" cy="1060.7" r="5.55" fill="rgba(128,128,128,0.5)" stroke="rgba(0,0,0,0.68)" stroke-width="1.3"/>
<circle cx="420.3" cy="1063.7" r="5.55" fill="rgba(128,128,128,0.5)" stroke="rgba(0,0,0,0.68)" stroke-width="1.3"/>
<circle cx="420" cy="1068" r="5.55" fill="rgba(128,128,128,0.5)" stroke="rgba(0,0,0,0.68)" stroke-width="1.3"/>
<circle cx="428.7" cy="1066.3" r="5.55" fill="rgba(128,128,128,0.5)" stroke="rgba(0,0,0,0.68)" stroke-width="1.3"/>
<circle cx="433.1" cy="1058" r="5.55" fill="rgba(128,128,128,0.5)" stroke="rgba(0,0,0,0.68)" stroke-width="1.3"/>
<circle cx="434.3" cy="1063.7" r="5.55" fill="rgba(128,128,128,0.5)" stroke="rgba(0,0,0,0.68)" stroke-width="1.3"/>
<circle cx="446.6" cy="1064.5" r="5.55" fill="rgba(128,128,128,0.5)" stroke="rgba(0,0,0,0.68)" stroke-width="1.3"/>
<circle cx="444" cy="1067.7" r="5.55" fill="rgba(128,128,128,0.5)" stroke="rgba(0,0,0,0.68)" stroke-width="1.3"/>
<circle cx="435.6" cy="1096.1" r="5.55" fill="rgba(128,128,128,0.5)" stroke="rgba(0,0,0,0.68)" stroke-width="1.3"/>
<circle cx="469.9" cy="1062.8" r="5.55" fill="rgba(128,128,128,0.5)" stroke="rgba(0,0,0,0.68)" stroke-width="1.3"/>
<circle cx="474.8" cy="1058" r="5.55" fill="rgba(128,128,128,0.5)" stroke="rgba(0,0,0,0.68)" stroke-width="1.3"/>
<circle cx="477.8" cy="1068.9" r="5.55" fill="rgba(128,128,128,0.5)" stroke="rgba(0,0,0,0.68)" stroke-width="1.3"/>
<circle cx="476" cy="1073.3" r="5.55" fill="rgba(128,128,128,0.5)" stroke="rgba(0,0,0,0.68)" stroke-width="1.3"/>
<circle cx="470.4" cy="1080" r="5.55" fill="rgba(128,128,128,0.5)" stroke="rgba(0,0,0,0.68)" stroke-width="1.3"/>
<circle cx="476.4" cy="1094.2" r="5.55" fill="rgba(128,128,128,0.5)" stroke="rgba(0,0,0,0.68)" stroke-width="1.3"/>
<circle cx="488.8" cy="1063.3" r="5.55" fill="rgba(128,128,128,0.5)" stroke="rgba(0,0,0,0.68)" stroke-width="1.3"/>
<circle cx="493.2" cy="1058.4" r="5.55" fill="rgba(128,128,128,0.5)" stroke="rgba(0,0,0,0.68)" stroke-width="1.3"/>
<circle cx="496.2" cy="1085.5" r="5.55" fill="rgba(128,128,128,0.5)" stroke="rgba(0,0,0,0.68)" stroke-width="1.3"/>
<circle cx="514.6" cy="1074.2" r="5.55" fill="rgba(128,128,128,0.5)" stroke="rgba(0,0,0,0.68)" stroke-width="1.3"/>
<circle cx="520.9" cy="1070.0" r="5.55" fill="rgba(128,128,128,0.5)" stroke="rgba(0,0,0,0.68)" stroke-width="1.3"/>
<circle cx="522.7" cy="1068.7" r="5.55" fill="rgba(128,128,128,0.5)" stroke="rgba(0,0,0,0.68)" stroke-width="1.3"/>
<circle cx="524.7" cy="1067.3" r="5.55" fill="rgba(128,128,128,0.5)" stroke="rgba(0,0,0,0.68)" stroke-width="1.3"/>
<circle cx="526.7" cy="1066" r="5.55" fill="rgba(128,128,128,0.5)" stroke="rgba(0,0,0,0.68)" stroke-width="1.3"/>
<circle cx="528.7" cy="1064.7" r="5.55" fill="rgba(128,128,128,0.5)" stroke="rgba(0,0,0,0.68)" stroke-width="1.3"/>
<circle cx="531.9" cy="1063.4" r="5.55" fill="rgba(128,128,128,0.5)" stroke="rgba(0,0,0,0.68)" stroke-width="1.3"/>
<circle cx="537.9" cy="1060.1" r="5.55" fill="rgba(128,128,128,0.5)" stroke="rgba(0,0,0,0.68)" stroke-width="1.3"/>
<circle cx="250.6" cy="1116.3" r="5.55" fill="rgba(128,128,128,0.5)" stroke="rgba(0,0,0,0.68)" stroke-width="1.3"/>
<circle cx="247.1" cy="1120.9" r="5.55" fill="rgba(128,128,128,0.5)" stroke="rgba(0,0,0,0.68)" stroke-width="1.3"/>
<circle cx="267.3" cy="1131.6" r="5.55" fill="rgba(128,128,128,0.5)" stroke="rgba(0,0,0,0.68)" stroke-width="1.3"/>
<circle cx="273.9" cy="1143.3" r="5.55" fill="rgba(128,128,128,0.5)" stroke="rgba(0,0,0,0.68)" stroke-width="1.3"/>
<circle cx="302.4" cy="1131.6" r="5.55" fill="rgba(128,128,128,0.5)" stroke="rgba(0,0,0,0.68)" stroke-width="1.3"/>
<circle cx="369.6" cy="1129" r="5.55" fill="rgba(128,128,128,0.5)" stroke="rgba(0,0,0,0.68)" stroke-width="1.3"/>
<circle cx="254" cy="1158.7" r="5.55" fill="rgba(128,128,128,0.5)" stroke="rgba(0,0,0,0.68)" stroke-width="1.3"/>
<circle cx="377.8" cy="1164.5" r="5.55" fill="rgba(128,128,128,0.5)" stroke="rgba(0,0,0,0.68)" stroke-width="1.3"/>
<circle cx="314" cy="1193.2" r="5.55" fill="rgba(128,128,128,0.5)" stroke="rgba(0,0,0,0.68)" stroke-width="1.3"/>
<circle cx="388.2" cy="1229.9" r="5.55" fill="rgba(128,128,128,0.5)" stroke="rgba(0,0,0,0.68)" stroke-width="1.3"/>
<circle cx="524.6" cy="1128.9" r="5.55" fill="rgba(128,128,128,0.5)" stroke="rgba(0,0,0,0.68)" stroke-width="1.3"/>
<circle cx="533.2" cy="1137.7" r="5.55" fill="rgba(128,128,128,0.5)" stroke="rgba(0,0,0,0.68)" stroke-width="1.3"/>
<circle cx="513.9" cy="1175.8" r="5.55" fill="rgba(128,128,128,0.5)" stroke="rgba(0,0,0,0.68)" stroke-width="1.3"/>
<circle cx="427.1" cy="1249.2" r="5.55" fill="rgba(128,128,128,0.5)" stroke="rgba(0,0,0,0.68)" stroke-width="1.3"/>
<circle cx="388.8" cy="1267.7" r="5.55" fill="rgba(128,128,128,0.5)" stroke="rgba(0,0,0,0.68)" stroke-width="1.3"/>
<circle cx="359.8" cy="1268.3" r="5.55" fill="rgba(128,128,128,0.5)" stroke="rgba(0,0,0,0.68)" stroke-width="1.3"/>
<circle cx="358.3" cy="1273.6" r="5.55" fill="rgba(128,128,128,0.5)" stroke="rgba(0,0,0,0.68)" stroke-width="1.3"/>
<rect x="76.6" y="967.3" width="166.6" height="277.70000000000005" fill="rgb(135,206,250)" fill-opacity="0.2"/>
<rect x="243.2" y="967.3" width="441.3" height="277.70000000000005" fill="rgb(255,182,193)" fill-opacity="0.2"/>
<rect x="76.6" y="1245.0" width="166.6" height="131.0999999999999" fill="rgb(255,255,0)" fill-opacity="0.2"/>
<rect x="243.2" y="1245.0" width="441.3" height="131.0999999999999" fill="rgb(144,238,144)" fill-opacity="0.2"/>
<line x1="243.2" y1="967.3" x2="243.2" y2="1376.1" stroke="#fff" stroke-opacity="0.6" stroke-width="2.6"/>
<line x1="76.6" y1="1245.0" x2="684.5" y2="1245.0" stroke="#fff" stroke-opacity="0.6" stroke-width="2.6"/>
<line x1="243.2" y1="964.9" x2="243.2" y2="1376.1" stroke="#4a4a4a" stroke-width="1.75" stroke-dasharray="8.2 4.06"/>
<line x1="74.6" y1="1245.0" x2="684.5" y2="1245.0" stroke="#4a4a4a" stroke-width="1.75" stroke-dasharray="8.2 4.06"/>
<circle cx="147.9" cy="1283.5" r="5.55" fill="rgba(255,255,0,0.6)" stroke="rgba(0,0,0,0.55)" stroke-width="1.4"/>
<circle cx="186.4" cy="1337.4" r="5.55" fill="rgba(255,255,0,0.6)" stroke="rgba(0,0,0,0.55)" stroke-width="1.4"/>
<circle cx="124.6" cy="1346.2" r="5.55" fill="rgba(255,255,0,0.6)" stroke="rgba(0,0,0,0.55)" stroke-width="1.4"/>
<circle cx="272.2" cy="1260.4" r="5.55" fill="rgba(255,255,0,0.6)" stroke="rgba(0,0,0,0.55)" stroke-width="1.4"/>
<circle cx="312.2" cy="1275.0" r="5.55" fill="rgba(255,255,0,0.6)" stroke="rgba(0,0,0,0.55)" stroke-width="1.4"/>
<circle cx="635.7" cy="1068.4" r="5.55" fill="rgba(144,238,144,0.6)" stroke="rgba(0,0,0,0.55)" stroke-width="1.4"/>
<circle cx="612.0" cy="1044.6" r="5.55" fill="rgba(144,238,144,0.6)" stroke="rgba(0,0,0,0.55)" stroke-width="1.4"/>
<circle cx="613.3" cy="1011.9" r="5.55" fill="rgba(144,238,144,0.6)" stroke="rgba(0,0,0,0.55)" stroke-width="1.4"/>
<circle cx="613.3" cy="1011.9" r="5.55" fill="rgba(144,238,144,0.6)" stroke="rgba(0,0,0,0.55)" stroke-width="1.4"/>
<circle cx="635.2" cy="1008.2" r="5.55" fill="rgba(144,238,144,0.6)" stroke="rgba(0,0,0,0.55)" stroke-width="1.4"/>
<circle cx="384.2" cy="1010.4" r="5.55" fill="rgba(0,0,255,0.6)" stroke="rgba(0,0,0,0.55)" stroke-width="1.4"/>
<circle cx="182.8" cy="1194.8" r="5.55" fill="rgba(0,0,255,0.6)" stroke="rgba(0,0,0,0.55)" stroke-width="1.4"/>
<circle cx="217.4" cy="1152.1" r="5.55" fill="rgba(0,0,255,0.6)" stroke="rgba(0,0,0,0.55)" stroke-width="1.4"/>
<circle cx="182.3" cy="1183.1" r="5.55" fill="rgba(0,0,255,0.6)" stroke="rgba(0,0,0,0.55)" stroke-width="1.4"/>
<circle cx="258.7" cy="1170.5" r="5.55" fill="rgba(0,0,255,0.6)" stroke="rgba(0,0,0,0.55)" stroke-width="1.4"/>
</g>
<text transform="translate(156.05,1284.30) scale(0.822,1)" font-size="17" fill="#111" style="stroke:none" textLength="20.80" lengthAdjust="spacing">P1</text>
<text transform="translate(194.15,1338.10) scale(0.962,1)" font-size="17" fill="#111" style="stroke:none" textLength="20.80" lengthAdjust="spacing">P2</text>
<text transform="translate(132.20,1347.00) scale(1.000,1)" font-size="17" fill="#111" style="stroke:none" textLength="20.90" lengthAdjust="spacing">P3</text>
<text transform="translate(280.30,1261.30) scale(1.069,1)" font-size="17" fill="#111" style="stroke:none" textLength="21.20" lengthAdjust="spacing">P4</text>
<text transform="translate(320.42,1275.60) scale(0.989,1)" font-size="17" fill="#111" style="stroke:none" textLength="20.90" lengthAdjust="spacing">P5</text>
<text transform="translate(643.43,1069.60) scale(1.048,1)" font-size="17" fill="#111" style="stroke:none" textLength="20.90" lengthAdjust="spacing">P6</text>
<text transform="translate(620.36,1045.30) scale(0.957,1)" font-size="17" fill="#111" style="stroke:none" textLength="20.80" lengthAdjust="spacing">P7</text>
<text transform="translate(620.57,1012.80) scale(1.022,1)" font-size="17" fill="#111" style="stroke:none" textLength="20.90" lengthAdjust="spacing">P8</text>
<text transform="translate(620.56,1012.80) scale(1.027,1)" font-size="17" fill="#111" style="stroke:none" textLength="20.80" lengthAdjust="spacing">P9</text>
<text transform="translate(642.94,1010.10) scale(0.972,1)" font-size="17" fill="#111" style="stroke:none" textLength="30.50" lengthAdjust="spacing">P10</text>
<text transform="translate(392.18,1010.80) scale(0.801,1)" font-size="17" fill="#111" style="stroke:none" textLength="29.00" lengthAdjust="spacing">P11</text>
<text transform="translate(189.49,1195.60) scale(0.939,1)" font-size="17" fill="#111" style="stroke:none" textLength="30.30" lengthAdjust="spacing">P12</text>
<text transform="translate(225.43,1152.60) scale(0.904,1)" font-size="17" fill="#111" style="stroke:none" textLength="30.40" lengthAdjust="spacing">P13</text>
<text transform="translate(189.50,1182.80) scale(0.926,1)" font-size="17" fill="#111" style="stroke:none" textLength="30.70" lengthAdjust="spacing">P14</text>
<text transform="translate(267.22,1171.50) scale(0.915,1)" font-size="17" fill="#111" style="stroke:none" textLength="30.40" lengthAdjust="spacing">P15</text>
<rect x="76.6" y="967.3" width="607.9" height="408.79999999999995" fill="none" stroke="#333" stroke-width="1.1"/>
<line x1="70.90" y1="1349.79" x2="76.60" y2="1349.79" stroke="#333" stroke-width="1.0" />
<text transform="translate(61.80,1354.39) scale(0.819,1)" font-size="15.5" text-anchor="end" fill="#0a0a0a" style="stroke:none" textLength="26.25" lengthAdjust="spacing">−13</text>
<line x1="70.90" y1="1297.42" x2="76.60" y2="1297.42" stroke="#333" stroke-width="1.0" />
<text transform="translate(61.80,1302.02) scale(0.806,1)" font-size="15.5" text-anchor="end" fill="#0a0a0a" style="stroke:none" textLength="26.14" lengthAdjust="spacing">−12</text>
<line x1="70.90" y1="1245.05" x2="76.60" y2="1245.05" stroke="#333" stroke-width="1.0" />
<text transform="translate(61.80,1249.65) scale(0.752,1)" font-size="15.5" text-anchor="end" fill="#0a0a0a" style="stroke:none" textLength="25.01" lengthAdjust="spacing">−11</text>
<line x1="70.90" y1="1192.68" x2="76.60" y2="1192.68" stroke="#333" stroke-width="1.0" />
<text transform="translate(61.80,1197.28) scale(0.896,1)" font-size="15.5" text-anchor="end" fill="#0a0a0a" style="stroke:none" textLength="26.35" lengthAdjust="spacing">−10</text>
<line x1="70.90" y1="1140.31" x2="76.60" y2="1140.31" stroke="#333" stroke-width="1.0" />
<text transform="translate(61.80,1144.91) scale(0.943,1)" font-size="15.5" text-anchor="end" fill="#0a0a0a" style="stroke:none" textLength="17.57" lengthAdjust="spacing">−9</text>
<line x1="70.90" y1="1087.94" x2="76.60" y2="1087.94" stroke="#333" stroke-width="1.0" />
<text transform="translate(61.80,1092.54) scale(0.937,1)" font-size="15.5" text-anchor="end" fill="#0a0a0a" style="stroke:none" textLength="17.67" lengthAdjust="spacing">−8</text>
<line x1="70.90" y1="1035.57" x2="76.60" y2="1035.57" stroke="#333" stroke-width="1.0" />
<text transform="translate(61.80,1040.17) scale(0.851,1)" font-size="15.5" text-anchor="end" fill="#0a0a0a" style="stroke:none" textLength="17.57" lengthAdjust="spacing">−7</text>
<line x1="70.90" y1="983.20" x2="76.60" y2="983.20" stroke="#333" stroke-width="1.0" />
<text transform="translate(61.80,987.80) scale(0.980,1)" font-size="15.5" text-anchor="end" fill="#0a0a0a" style="stroke:none" textLength="17.67" lengthAdjust="spacing">−6</text>
<line x1="76.80" y1="1376.10" x2="76.80" y2="1382.30" stroke="#333" stroke-width="1.0" />
<text transform="translate(76.80,1401.90) scale(0.819,1)" font-size="15.5" text-anchor="middle" fill="#0a0a0a" style="stroke:none" textLength="26.25" lengthAdjust="spacing">−13</text>
<line x1="160.06" y1="1376.10" x2="160.06" y2="1382.30" stroke="#333" stroke-width="1.0" />
<text transform="translate(160.06,1401.90) scale(0.806,1)" font-size="15.5" text-anchor="middle" fill="#0a0a0a" style="stroke:none" textLength="26.14" lengthAdjust="spacing">−12</text>
<line x1="243.32" y1="1376.10" x2="243.32" y2="1382.30" stroke="#333" stroke-width="1.0" />
<text transform="translate(243.32,1401.90) scale(0.752,1)" font-size="15.5" text-anchor="middle" fill="#0a0a0a" style="stroke:none" textLength="25.01" lengthAdjust="spacing">−11</text>
<line x1="326.58" y1="1376.10" x2="326.58" y2="1382.30" stroke="#333" stroke-width="1.0" />
<text transform="translate(326.58,1401.90) scale(0.896,1)" font-size="15.5" text-anchor="middle" fill="#0a0a0a" style="stroke:none" textLength="26.35" lengthAdjust="spacing">−10</text>
<line x1="409.84" y1="1376.10" x2="409.84" y2="1382.30" stroke="#333" stroke-width="1.0" />
<text transform="translate(409.84,1401.90) scale(0.943,1)" font-size="15.5" text-anchor="middle" fill="#0a0a0a" style="stroke:none" textLength="17.57" lengthAdjust="spacing">−9</text>
<line x1="493.10" y1="1376.10" x2="493.10" y2="1382.30" stroke="#333" stroke-width="1.0" />
<text transform="translate(493.10,1401.90) scale(0.937,1)" font-size="15.5" text-anchor="middle" fill="#0a0a0a" style="stroke:none" textLength="17.67" lengthAdjust="spacing">−8</text>
<line x1="576.36" y1="1376.10" x2="576.36" y2="1382.30" stroke="#333" stroke-width="1.0" />
<text transform="translate(576.36,1401.90) scale(0.851,1)" font-size="15.5" text-anchor="middle" fill="#0a0a0a" style="stroke:none" textLength="17.57" lengthAdjust="spacing">−7</text>
<line x1="659.62" y1="1376.10" x2="659.62" y2="1382.30" stroke="#333" stroke-width="1.0" />
<text transform="translate(659.62,1401.90) scale(0.980,1)" font-size="15.5" text-anchor="middle" fill="#0a0a0a" style="stroke:none" textLength="17.67" lengthAdjust="spacing">−6</text>
<g transform="translate(15.0,1171.3) rotate(-90)">
<text x="0" y="0" font-size="17.5" text-anchor="middle" fill="#0a0a0a" textLength="176.50" lengthAdjust="spacingAndGlyphs">log<tspan font-size="12.8" dy="6.0">10</tspan><tspan dy="-6.0">[EC</tspan><tspan font-size="12.8" dy="6.0">50</tspan><tspan dy="-6.0"> GCGR (M)]</tspan></text>
</g>
<g transform="translate(381.0,1434.7)">
<text x="0" y="0" font-size="17.5" text-anchor="middle" fill="#0a0a0a" textLength="182.50" lengthAdjust="spacingAndGlyphs">log<tspan font-size="12.8" dy="6.0">10</tspan><tspan dy="-6.0">[EC</tspan><tspan font-size="12.8" dy="6.0">50</tspan><tspan dy="-6.0"> GLP-1R (M)]</tspan></text>
</g>
<text x="2.30" y="974.60" font-size="27.5" text-anchor="start" font-weight="bold" fill="#000" style="stroke:#000;stroke-width:1.1px;paint-order:stroke">c</text>
</svg></body></html>
